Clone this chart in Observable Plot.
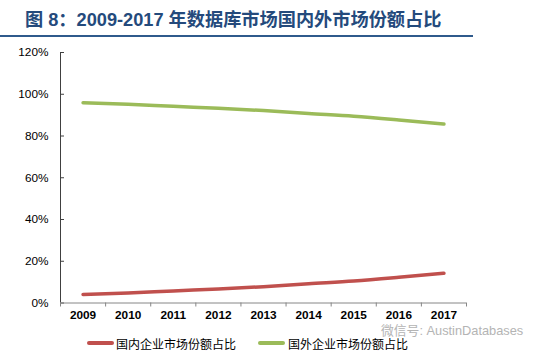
<!DOCTYPE html>
<html>
<head>
<meta charset="utf-8">
<script src="https://cdn.jsdelivr.net/npm/d3@7"></script>
<script src="https://cdn.jsdelivr.net/npm/@observablehq/plot@0.6"></script>
<style>
  html, body { margin: 0; padding: 0; background: #fff; }
  #wrap { position: relative; width: 546px; height: 360px; overflow: hidden; background: #fff; }
  #title { position: absolute; left: 25px; top: 5px; font-family: "Liberation Sans", Arial, "Noto Sans CJK SC", sans-serif; font-weight: bold; font-size: 18.2px; color: #244A7C; white-space: nowrap; letter-spacing: 0px; }
  #rule { position: absolute; left: 0; top: 35px; width: 473px; height: 2px; background: #2F5A8C; }
  #chart { position: absolute; left: 0; top: 37px; }
  .leg { position: absolute; top: 337px; font-family: "Noto Sans CJK SC", sans-serif; font-size: 12px; line-height: 14px; color: #000; white-space: nowrap; }
  .sw { position: absolute; height: 4px; border-radius: 2px; }
  #wm { position: absolute; left: 381px; top: 325px; font-family: "Liberation Sans", Arial, "Noto Sans CJK SC", sans-serif; font-size: 12.8px; line-height: 12px; color: #b4b4b4; white-space: nowrap; }
</style>
</head>
<body>
<div id="wrap">
  <div id="title"></div>
  <div id="rule"></div>
  <div id="chart"></div>
  <div id="legend"></div>
  <div id="wm">微信号: AustinDatabases</div>
</div>
<script>
const titleText = "图 8：2009-2017 年数据库市场国内外市场份额占比";
const years = [2009, 2010, 2011, 2012, 2013, 2014, 2015, 2016, 2017];
const domestic = [4.1, 4.8, 5.8, 6.7, 7.8, 9.2, 10.5, 12.3, 14.3];
const foreign = [95.9, 95.2, 94.2, 93.3, 92.2, 90.8, 89.5, 87.7, 85.7];
const yTicks = [0, 20, 40, 60, 80, 100, 120];
const seriesNames = ["国内企业市场份额占比", "国外企业市场份额占比"];
const seriesColors = ["#C0504D", "#9BBB59"];

document.getElementById("title").textContent = titleText;

const data = [
  ...years.map((y, i) => ({year: y, value: domestic[i], series: seriesNames[0]})),
  ...years.map((y, i) => ({year: y, value: foreign[i], series: seriesNames[1]}))
];
const bounds = [...years.map(y => y - 0.5), years[years.length - 1] + 0.5];

const chart = Plot.plot({
  width: 546,
  height: 295,
  marginLeft: 60,
  marginRight: 80,
  marginTop: 15,
  marginBottom: 29.5,
  style: {fontFamily: "'Liberation Sans', Arial, sans-serif", fontSize: "11.8px", color: "#000", background: "white", overflow: "visible"},
  x: {type: "linear", domain: [bounds[0], bounds[bounds.length - 1]]},
  y: {domain: [0, 120]},
  color: {domain: seriesNames, range: seriesColors},
  marks: [
    Plot.axisY(yTicks, {tickSize: 0, tickPadding: 12, tickFormat: d => d + "%", fill: "#000", label: null}),
    Plot.ruleY(yTicks, {x1: bounds[0], x2: bounds[0], insetRight: -4, stroke: "#404040"}),
    Plot.ruleX([bounds[0]], {stroke: "#404040"}),
    Plot.ruleY([0], {stroke: "#868686"}),
    Plot.axisX(bounds, {tickSize: 4, tickFormat: () => "", stroke: "#868686", label: null}),
    Plot.axisX(years, {tickSize: 0, tickPadding: 8, tickFormat: d => String(d), fontWeight: "bold", fill: "#000", label: null}),
    Plot.line(data, {x: "year", y: "value", z: "series", stroke: "series", strokeWidth: 3.5, curve: "monotone-x", strokeLinecap: "round"})
  ]
});
document.getElementById("chart").appendChild(chart);

const legend = document.getElementById("legend");
const legPos = [{sw: 87, tx: 116}, {sw: 258, tx: 288}];
seriesNames.forEach((name, i) => {
  const sw = document.createElement("div");
  sw.className = "sw";
  sw.style.left = legPos[i].sw + "px";
  sw.style.top = "341px";
  sw.style.width = "27px";
  sw.style.background = seriesColors[i];
  legend.appendChild(sw);
  const t = document.createElement("div");
  t.className = "leg";
  t.style.left = legPos[i].tx + "px";
  t.textContent = name;
  legend.appendChild(t);
});
</script>
</body>
</html>
